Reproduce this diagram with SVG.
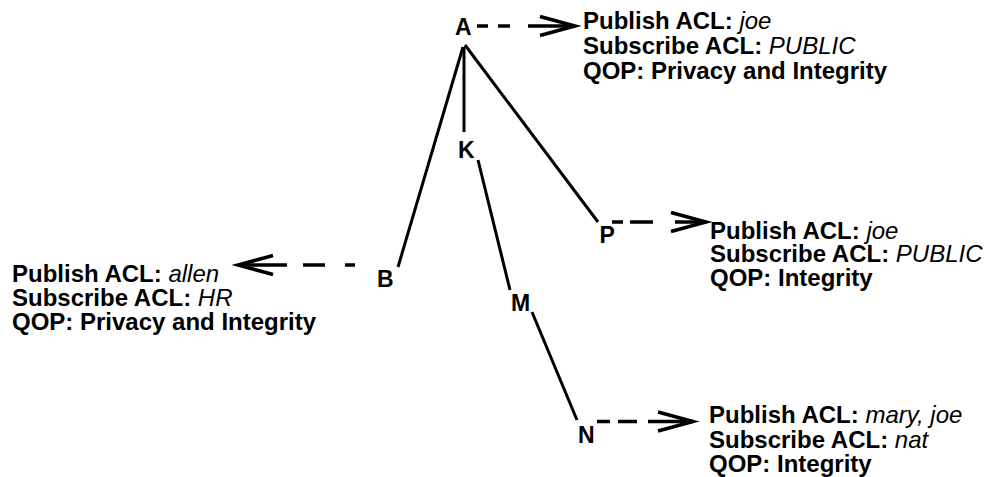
<svg xmlns="http://www.w3.org/2000/svg" width="994" height="477" viewBox="0 0 994 477">
  <style>
    .label { font-family: "Liberation Sans", Arial, Helvetica, sans-serif; font-size: 23px; font-weight: bold; fill: #000; }
    .note { font-family: "Liberation Sans", Arial, Helvetica, sans-serif; font-size: 24px; font-weight: bold; fill: #000; }
    .note .val { font-weight: normal; font-style: italic; }
    .edge { fill: none; stroke: #000; stroke-width: 3; stroke-linecap: butt; }
    .flow { fill: none; stroke: #000; stroke-width: 3.5; stroke-linecap: butt; marker-end: url(#head); }
  </style>
  <defs>
    <marker id="head" markerUnits="userSpaceOnUse" viewBox="-40 -14 44 28" markerWidth="44" markerHeight="28" refX="0" refY="0" orient="auto" overflow="visible">
      <path d="M-35,-9.5 L0,0 L-35,9.5" fill="none" stroke="#000" stroke-width="3.5" stroke-linejoin="miter"/>
    </marker>
  </defs>
  <rect width="994" height="477" fill="#fff"/>

  <!-- tree edges and dashed arrows to the property notes -->
  <g id="connectors">
    <path class="edge" d="M463,47 L398,267"/>
    <path class="edge" d="M464,47 L464,132"/>
    <path class="edge" d="M465,45 L598,222"/>
    <path class="edge" d="M478,160 L510,290"/>
    <path class="edge" d="M532,312 L577,420"/>

    <path class="flow" d="M477,26 H488 M498,26 H510 M528,26 H575"/>
    <path class="flow" d="M612,222 H623 M630,222 H653 M675,222 H706"/>
    <path class="flow" d="M597,421.5 H610 M618,421.5 H637 M648,421.5 H693"/>
    <path class="flow" d="M355,265 H345 M325,265 H303 M287,265 H238"/>
  </g>

  <g id="node-A"><text class="label" x="455" y="35">A</text></g>
  <g id="node-K"><text class="label" x="458" y="158">K</text></g>
  <g id="node-B"><text class="label" x="377" y="287">B</text></g>
  <g id="node-P"><text class="label" x="599.5" y="243">P</text></g>
  <g id="node-M"><text class="label" x="511" y="311">M</text></g>
  <g id="node-N"><text class="label" x="578" y="443">N</text></g>

  <g id="note-A" class="note">
    <text x="583" y="28.5">Publish ACL: <tspan class="val">joe</tspan></text>
    <text x="583" y="54">Subscribe ACL: <tspan class="val">PUBLIC</tspan></text>
    <text x="583" y="79">QOP: Privacy and Integrity</text>
  </g>

  <g id="note-P" class="note">
    <text x="710" y="238.5">Publish ACL: <tspan class="val">joe</tspan></text>
    <text x="710" y="262">Subscribe ACL: <tspan class="val">PUBLIC</tspan></text>
    <text x="710" y="286">QOP: Integrity</text>
  </g>

  <g id="note-B" class="note">
    <text x="12" y="282">Publish ACL: <tspan class="val">allen</tspan></text>
    <text x="12" y="306">Subscribe ACL: <tspan class="val">HR</tspan></text>
    <text x="12" y="330">QOP: Privacy and Integrity</text>
  </g>

  <g id="note-N" class="note">
    <text x="709" y="423">Publish ACL: <tspan class="val">mary, joe</tspan></text>
    <text x="709" y="447.5">Subscribe ACL: <tspan class="val">nat</tspan></text>
    <text x="709" y="472">QOP: Integrity</text>
  </g>
</svg>
